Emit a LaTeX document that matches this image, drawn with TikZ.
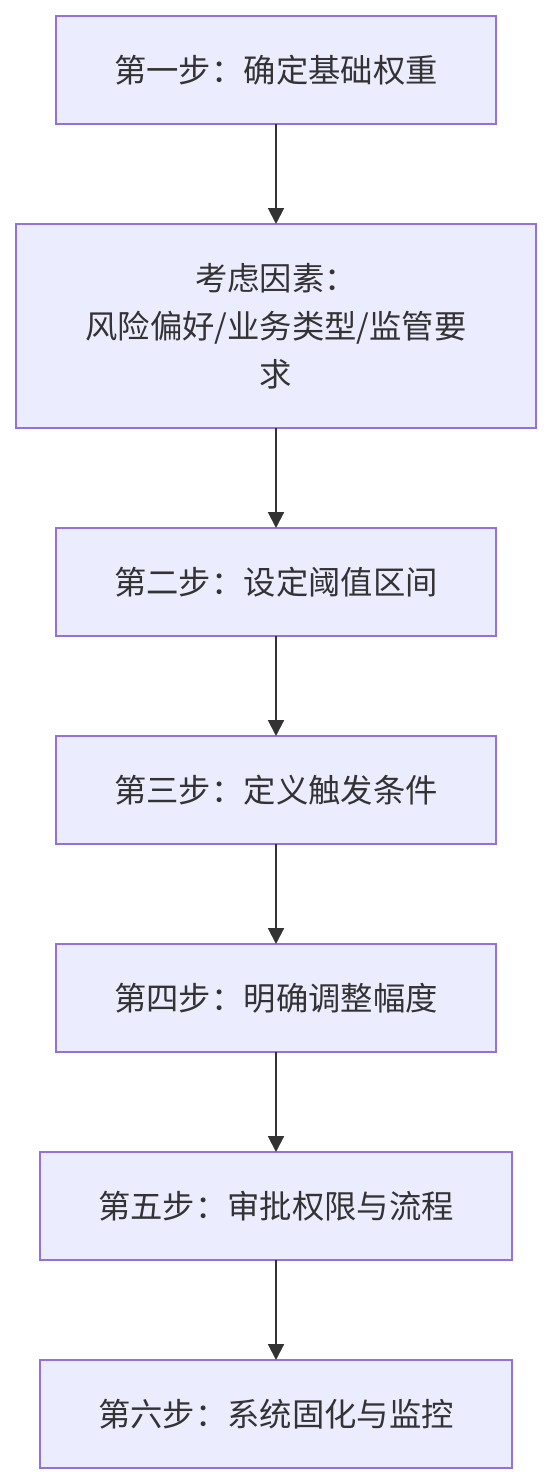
\documentclass[tikz,border=0pt]{standalone}
\usepackage{fontspec}
\newfontfamily\cjk{Noto Sans CJK SC}
\usepackage{tikz}
\usetikzlibrary{arrows.meta, positioning}
\definecolor{boxfill}{HTML}{ECECFF}
\definecolor{boxline}{HTML}{9370DB}
\definecolor{ink}{HTML}{333333}

\begin{document}
\begin{tikzpicture}[
    stepbox/.style={rectangle, draw=boxline, fill=boxfill, line width=0.04cm, outer sep=0pt,
        minimum width=8.8cm, minimum height=2.16cm, text=ink, align=center,
        font=\cjk\fontsize{18.4}{27.2}\selectfont},
    flow/.style={draw=ink, line width=0.04cm, -{Triangle[length=9pt, width=9pt]}}
]
    \useasboundingbox (0,0) rectangle (11.04,-29.68);

    \node[stepbox] (s1) at (5.52,-1.40)  {第一步：确定基础权重};
    \node[stepbox, minimum width=10.4cm, minimum height=4.08cm] (f) at (5.52,-6.52)
        {考虑因素：\\风险偏好/业务类型/监管要\\求};
    \node[stepbox] (s2) at (5.52,-11.64) {第二步：设定阈值区间};
    \node[stepbox] (s3) at (5.52,-15.80) {第三步：定义触发条件};
    \node[stepbox] (s4) at (5.52,-19.96) {第四步：明确调整幅度};
    \node[stepbox, minimum width=9.44cm] (s5) at (5.52,-24.12) {第五步：审批权限与流程};
    \node[stepbox, minimum width=9.44cm] (s6) at (5.52,-28.28) {第六步：系统固化与监控};

    \draw[flow] (s1) -- (f);
    \draw[flow] (f) -- (s2);
    \draw[flow] (s2) -- (s3);
    \draw[flow] (s3) -- (s4);
    \draw[flow] (s4) -- (s5);
    \draw[flow] (s5) -- (s6);
\end{tikzpicture}
\end{document}
